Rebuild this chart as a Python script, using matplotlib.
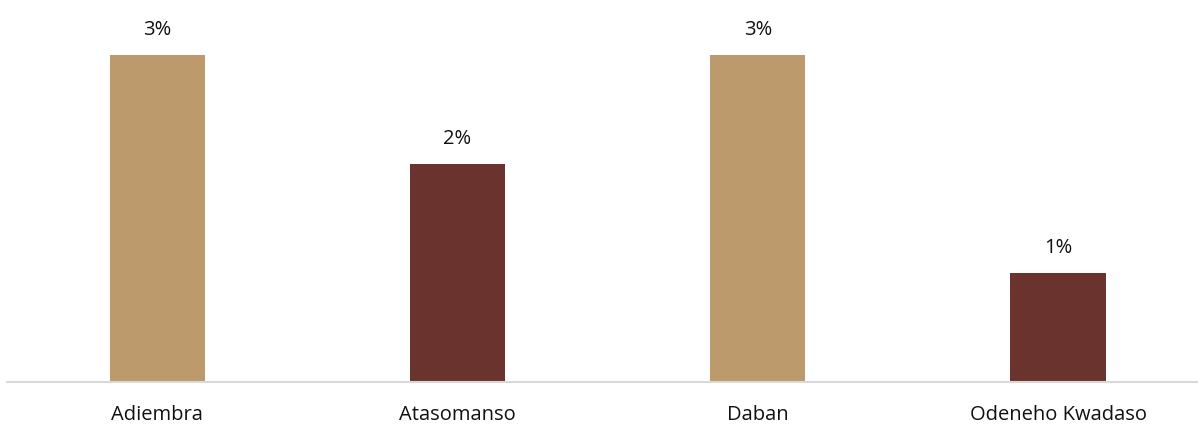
import matplotlib.pyplot as plt

# data
categories = ["Adiembra", "Atasomanso", "Daban", "Odeneho Kwadaso"]
values = [3, 2, 3, 1]
labels = ["3%", "2%", "3%", "1%"]
colors = ["#BC9A6B", "#6A332D", "#BC9A6B", "#6A332D"]

plt.rcParams['font.family'] = ['Open Sans', 'DejaVu Sans']

fig = plt.figure(figsize=(11.98, 4.25), dpi=100)
ax = fig.add_axes([7 / 1198, 1 - 381.5 / 425, 1 - 7 / 1198, 381.5 / 425])

x = range(len(categories))
bars = ax.bar(x, values, width=0.317, color=colors)

for b, lab in zip(bars, labels):
    ax.annotate(lab, (b.get_x() + b.get_width() / 2, b.get_height()),
                xytext=(0, 11), textcoords="offset points",
                ha="center", va="bottom", fontsize=14.5, color="#111111")

ax.set_xlim(-0.5, 3.466)
ax.set_ylim(0, 3.51)
ax.set_xticks(list(x))
ax.set_xticklabels(categories, fontsize=14.5, color="#111111")
ax.tick_params(axis="x", length=0, pad=17)
ax.set_yticks([])

for s in ["top", "right", "left"]:
    ax.spines[s].set_visible(False)
ax.spines["bottom"].set_color("#D9D9D9")
ax.spines["bottom"].set_linewidth(1.5)

fig.savefig("out.png", dpi=100)
